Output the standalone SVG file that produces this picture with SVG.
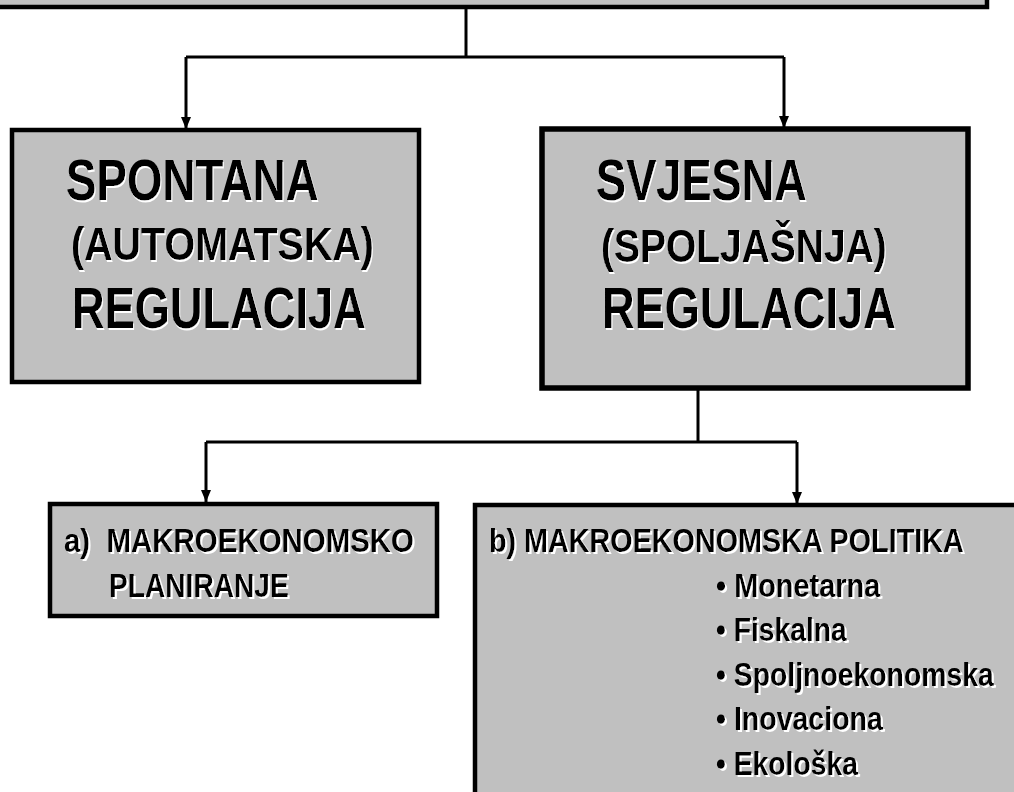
<svg xmlns="http://www.w3.org/2000/svg" width="1014" height="792" viewBox="0 0 1014 792">
<style>
.box{fill:#c0c0c0;stroke:#000;stroke-width:4.5}
.conn{fill:none;stroke:#000;stroke-width:3}
.t{font-family:"Liberation Sans",Arial,sans-serif;font-weight:bold;fill:#000;filter:url(#sh)}
.big{font-size:57px}
.mid{font-size:46px}
.sm{font-size:33px}
</style>
<defs>
<marker id="arr" viewBox="0 0 12 10" refX="12" refY="5" markerWidth="12" markerHeight="10" markerUnits="userSpaceOnUse" orient="auto">
<path d="M0,0 L12,5 L0,10 Z" fill="#000"/>
</marker>
<filter id="sh" x="-5%" y="-20%" width="110%" height="140%">
<feFlood flood-color="#fff" result="w"/>
<feComposite in="w" in2="SourceAlpha" operator="in" result="wa"/>
<feOffset in="wa" dx="1.8" dy="1.5" result="off"/>
<feMerge><feMergeNode in="off"/><feMergeNode in="SourceGraphic"/></feMerge>
</filter>
</defs>
<rect width="1014" height="792" fill="#fff"/>
<g id="top">
<rect class="box" x="-10" y="-30" width="997" height="37"/>
</g>
<g id="connectors">
<path class="conn" d="M466,9 V57"/>
<path class="conn" d="M186,57 H784"/>
<path class="conn" d="M186,57 V129" marker-end="url(#arr)"/>
<path class="conn" d="M784,57 V128" marker-end="url(#arr)"/>
<path class="conn" d="M698,390 V442"/>
<path class="conn" d="M206,442 H797"/>
<path class="conn" d="M206,442 V502" marker-end="url(#arr)"/>
<path class="conn" d="M797,442 V504" marker-end="url(#arr)"/>
</g>
<g id="spontana">
<rect class="box" x="12" y="130" width="407" height="252"/>
<text class="t big" transform="translate(66,200) scale(0.79,1)" textLength="320" lengthAdjust="spacingAndGlyphs">SPONTANA</text>
<text class="t mid" transform="translate(71,260) scale(0.75,1)" textLength="404" lengthAdjust="spacingAndGlyphs">(AUTOMATSKA)</text>
<text class="t big" transform="translate(72,328) scale(0.79,1)" textLength="372" lengthAdjust="spacingAndGlyphs">REGULACIJA</text>
</g>
<g id="svjesna">
<rect class="box" x="542" y="129" width="426" height="259" style="stroke-width:5.5"/>
<text class="t big" transform="translate(596,200) scale(0.79,1)" textLength="267" lengthAdjust="spacingAndGlyphs">SVJESNA</text>
<text class="t mid" transform="translate(601,262) scale(0.75,1)" textLength="381" lengthAdjust="spacingAndGlyphs">(SPOLJAŠNJA)</text>
<text class="t big" transform="translate(602,328) scale(0.79,1)" textLength="372" lengthAdjust="spacingAndGlyphs">REGULACIJA</text>
</g>
<g id="planiranje">
<rect class="box" x="50" y="504" width="387" height="112"/>
<text class="t sm" transform="translate(64,552) scale(0.86,1)" textLength="407" lengthAdjust="spacingAndGlyphs" xml:space="preserve">a)  MAKROEKONOMSKO</text>
<text class="t sm" transform="translate(109,597) scale(0.86,1)" textLength="209" lengthAdjust="spacingAndGlyphs">PLANIRANJE</text>
</g>
<g id="politika">
<rect class="box" x="475" y="505" width="560" height="310"/>
<text class="t sm" transform="translate(489,552) scale(0.86,1)" textLength="552" lengthAdjust="spacingAndGlyphs">b) MAKROEKONOMSKA POLITIKA</text>
<text class="t sm" transform="translate(716,597) scale(0.86,1)" textLength="191" lengthAdjust="spacingAndGlyphs">• Monetarna</text>
<text class="t sm" transform="translate(716,641) scale(0.86,1)" textLength="152" lengthAdjust="spacingAndGlyphs">• Fiskalna</text>
<text class="t sm" transform="translate(716,686) scale(0.86,1)" textLength="323" lengthAdjust="spacingAndGlyphs">• Spoljnoekonomska</text>
<text class="t sm" transform="translate(716,730) scale(0.86,1)" textLength="194" lengthAdjust="spacingAndGlyphs">• Inovaciona</text>
<text class="t sm" transform="translate(716,775) scale(0.86,1)" textLength="165" lengthAdjust="spacingAndGlyphs">• Ekološka</text>
</g>
</svg>
